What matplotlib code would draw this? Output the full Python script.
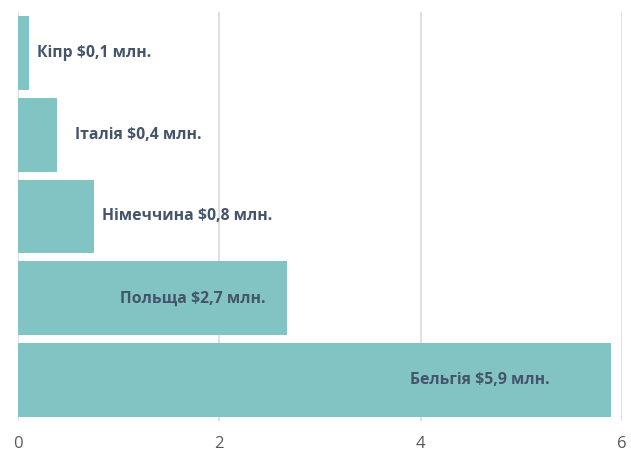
import matplotlib
matplotlib.use('Agg')
from matplotlib import pyplot as plt

countries = ['Бельгія', 'Польща', 'Німеччина', 'Італія', 'Кіпр']
values = [5.89, 2.67, 0.75, 0.39, 0.11]
labels = ['Бельгія $5,9 млн.', 'Польща $2,7 млн.', 'Німеччина $0,8 млн.',
          'Італія $0,4 млн.', 'Кіпр $0,1 млн.']
label_x = [3.89, 1.01, 0.83, 0.57, 0.19]
ticks = [0, 2, 4, 6]

plt.rcParams['font.family'] = ['Open Sans', 'DejaVu Sans']

fig = plt.figure(figsize=(6.31, 4.51), dpi=100)
ax = fig.add_axes([18 / 631, 30 / 451, 604 / 631, 409 / 451])

ax.barh(range(len(values)), values, height=0.9, color='#82c3c3', zorder=2)

for i, (lx, txt) in enumerate(zip(label_x, labels)):
    ax.text(lx, i, txt, va='center', ha='left', fontsize=11.3,
            fontweight='bold', color='#44546a', zorder=3)

ax.set_xlim(0, 6)
ax.set_ylim(-0.5, len(values) - 0.5)
ax.set_xticks(ticks)
ax.set_xticklabels([str(t) for t in ticks], fontsize=12, color='#595959')
ax.set_yticks([])
ax.grid(axis='x', color='#d9d9d9', linewidth=1.2, zorder=0)
for s in ['top', 'right', 'left', 'bottom']:
    ax.spines[s].set_visible(False)
ax.tick_params(axis='x', length=0, pad=11)

fig.savefig('out.png', dpi=100)
